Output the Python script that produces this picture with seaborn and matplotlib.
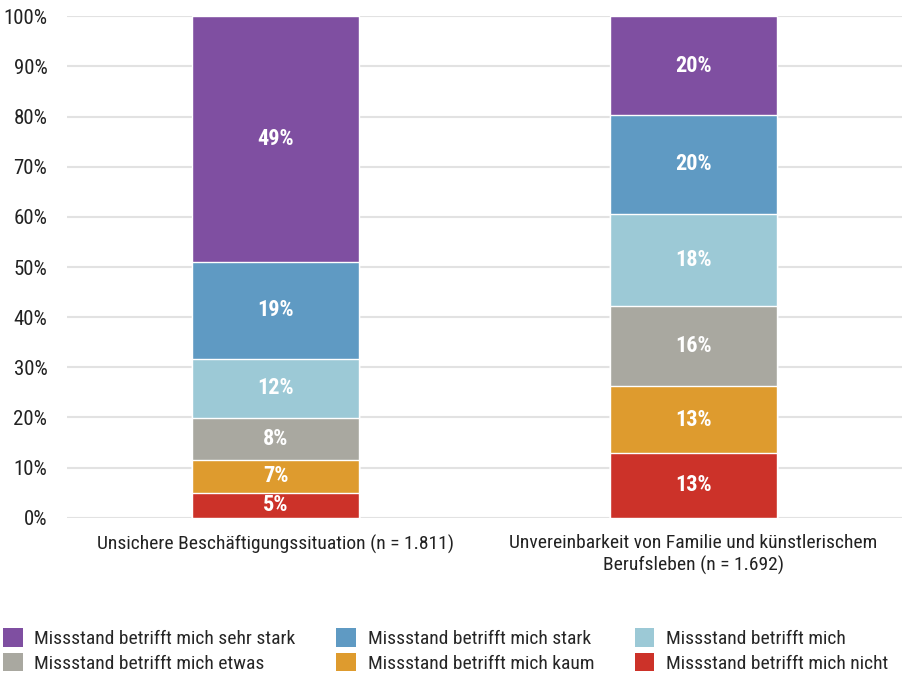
import numpy as np
import pandas as pd
import matplotlib
matplotlib.use("Agg")
import matplotlib.pyplot as plt
import seaborn as sns
from matplotlib.patches import Patch

# Data (shares in percent, stacked from bottom to top)
categories = ["Unsichere Beschäftigungssituation (n = 1.811)",
              "Unvereinbarkeit von Familie und künstlerischem\nBerufsleben (n = 1.692)"]
levels = ["Missstand betrifft mich nicht",
          "Missstand betrifft mich kaum",
          "Missstand betrifft mich etwas",
          "Missstand betrifft mich",
          "Missstand betrifft mich stark",
          "Missstand betrifft mich sehr stark"]
nicht = [5.0, 12.9]
kaum = [6.6, 13.4]
etwas = [8.3, 15.9]
mich = [11.8, 18.4]
stark = [19.4, 19.7]
sehr_stark = [48.9, 19.7]
colors = ["#CC3229", "#DE9B2E", "#A9A8A0", "#9CC9D6", "#5F9AC3", "#7F4FA1"]

sns.set_theme(style="white")
plt.rcParams["font.family"] = ["Roboto Condensed", "Liberation Sans Narrow", "Roboto", "DejaVu Sans"]

values = np.array([nicht, kaum, etwas, mich, stark, sehr_stark])
cum = values.cumsum(axis=0)

fig = plt.figure(figsize=(9.02, 6.76), dpi=100)
ax = fig.add_axes([0.074, 0.234, 0.926, 0.742])

ax.set_ylim(0, 100)
ax.set_yticks(np.arange(0, 101, 10))
for y in np.arange(0, 101, 10):
    ax.axhline(y, color="#E2E2E2", lw=1.5, zorder=0)

# draw cumulative bars from top level down so lower segments overlay
for i in range(len(levels) - 1, -1, -1):
    df = pd.DataFrame({"cat": categories, "val": cum[i]})
    sns.barplot(data=df, x="cat", y="val", color=colors[i], saturation=1,
                width=0.4, ax=ax, zorder=2)

for j in range(len(categories)):
    for i in range(len(levels)):
        mid = cum[i, j] - values[i, j] / 2
        ax.text(j, mid, f"{values[i, j]:.0f}%", ha="center", va="center",
                color="white", fontsize=16, fontweight="bold", zorder=3)

ax.set_xlim(-0.5, 1.5)
ax.set_xlabel("")
ax.set_ylabel("")
ax.yaxis.set_major_formatter(matplotlib.ticker.FuncFormatter(lambda v, p: f"{v:.0f}%"))
ax.tick_params(axis="y", labelsize=15, length=0, pad=14, labelcolor="#222222")
ax.tick_params(axis="x", labelsize=14, length=0, pad=12, labelcolor="#222222")
for s in ax.spines.values():
    s.set_visible(False)

order = [5, 2, 4, 1, 3, 0]
handles = [Patch(facecolor=colors[k], edgecolor="none", label=levels[k]) for k in order]
fig.legend(handles=handles, ncol=3, loc="upper left", bbox_to_anchor=(-0.005, 0.082),
           frameon=False, fontsize=14, handlelength=1.0, handleheight=1.1,
           handletextpad=0.6, columnspacing=2.1, labelspacing=0.22, borderaxespad=0)

fig.savefig("out.png", dpi=100)
